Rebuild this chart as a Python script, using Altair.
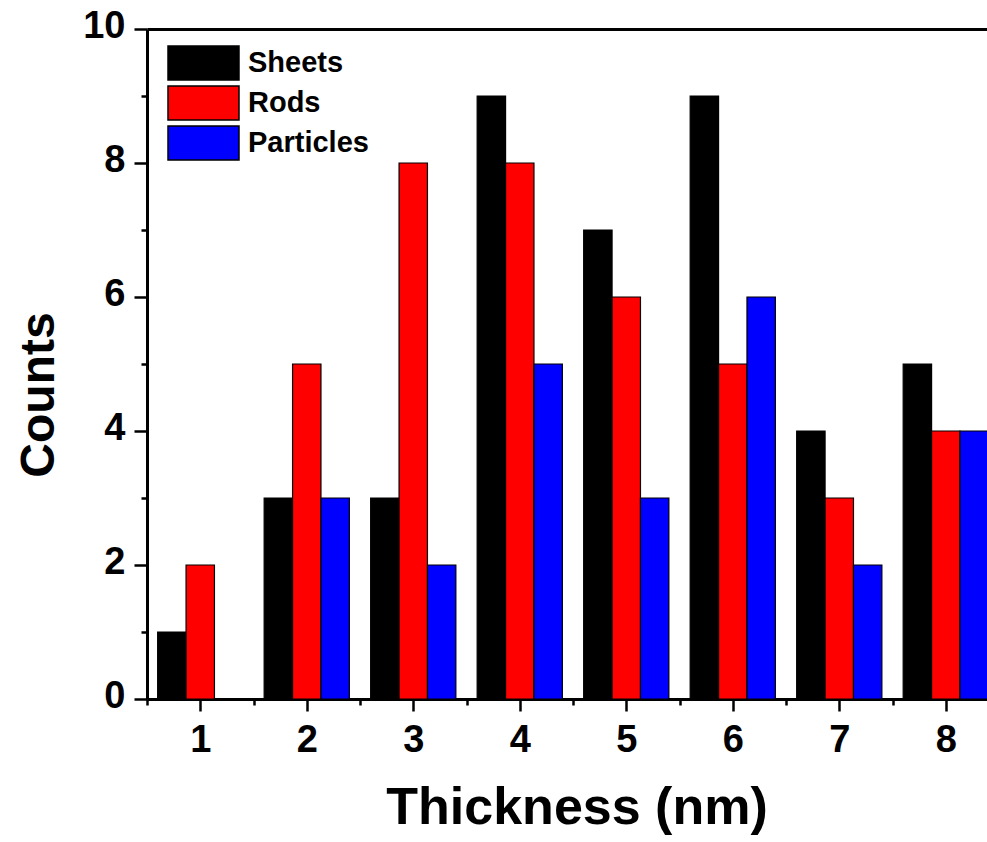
import altair as alt
import pandas as pd

thickness = [1, 2, 3, 4, 5, 6, 7, 8]
sheets = [1, 3, 3, 9, 7, 9, 4, 5]
rods = [2, 5, 8, 8, 6, 5, 3, 4]
particles = [0, 3, 2, 5, 3, 6, 2, 4]
series_names = ["Sheets", "Rods", "Particles"]
series_colors = ["#000000", "#ff0000", "#0000ff"]

rows = []
for idx, (name, vals) in enumerate(zip(series_names, [sheets, rods, particles])):
    for t, v in zip(thickness, vals):
        rows.append({"Thickness": t, "Counts": v, "Series": name, "idx": idx})
df = pd.DataFrame(rows)

FONT = "Liberation Sans"
xscale = alt.Scale(domain=[0.5, 8.387], nice=False, zero=False)
yscale = alt.Scale(domain=[0, 10], nice=False)

base = alt.Chart(df).transform_calculate(
    x1="datum.Thickness - 0.4 + datum.idx * 0.8 / 3",
    x2="datum.Thickness - 0.4 + (datum.idx + 1) * 0.8 / 3",
)

bars = base.mark_bar(clip=True, stroke="black", strokeWidth=1.2).encode(
    x=alt.X(
        "x1:Q",
        scale=xscale,
        axis=alt.Axis(
            orient="bottom",
            values=[0.5, 1, 1.5, 2, 2.5, 3, 3.5, 4, 4.5, 5, 5.5, 6, 6.5, 7, 7.5, 8],
            labelExpr="datum.value % 1 === 0 ? format(datum.value, 'd') : ''",
            tickSize={"condition": {"test": "datum.value % 1 === 0", "value": 12}, "value": 6},
            tickWidth=2.5,
            tickColor="black",
            domainColor="black",
            domainWidth=3,
            grid=False,
            labelFont=FONT,
            labelFontSize=38,
            labelFontWeight="bold",
            labelColor="black",
            labelPadding=10,
            labelFlush=False,
            labelOverlap=False,
            title="Thickness (nm)",
            titleFont=FONT,
            titleFontSize=52,
            titleFontWeight="bold",
            titleColor="black",
            titleX=429.5,
            titleY=124,
            titleAlign="center",
            titleBaseline="alphabetic",
        ),
    ),
    x2="x2:Q",
    y=alt.Y(
        "Counts:Q",
        scale=yscale,
        stack=None,
        axis=alt.Axis(
            orient="left",
            values=list(range(11)),
            labelExpr="datum.value % 2 === 0 ? format(datum.value, 'd') : ''",
            tickSize={"condition": {"test": "datum.value % 2 === 0", "value": 13}, "value": 6},
            tickWidth=2.5,
            tickColor="black",
            domainColor="black",
            domainWidth=3,
            grid=False,
            labelFont=FONT,
            labelFontSize=38,
            labelFontWeight="bold",
            labelColor="black",
            labelPadding=9,
            labelOffset=-3,
            labelFlush=False,
            labelOverlap=False,
            title="Counts",
            titleFont=FONT,
            titleFontSize=48,
            titleFontWeight="bold",
            titleColor="black",
            titleAngle=270,
            titleX=-94,
            titleY=365.5,
            titleAlign="center",
            titleBaseline="alphabetic",
        ),
    ),
    y2=alt.datum(0),
    color=alt.Color(
        "Series:N",
        scale=alt.Scale(domain=series_names, range=series_colors),
        sort=series_names,
        legend=alt.Legend(
            title=None,
            orient="none",
            legendX=37.5,
            legendY=15,
            padding=0,
            offset=0,
            symbolType="M-1.945,-0.93H1.945V0.93H-1.945Z",
            symbolSize=1332,
            symbolStrokeColor="black",
            symbolStrokeWidth=1.5,
            symbolOpacity=1,
            rowPadding=0,
            labelOffset=25.5,
            labelFont=FONT,
            labelFontSize=29,
            labelFontWeight="bold",
            labelColor="black",
        ),
    ),
)

top = base.mark_bar(opacity=0).encode(
    x=alt.X(
        "x1:Q",
        scale=xscale,
        axis=alt.Axis(
            orient="top",
            labels=False,
            ticks=False,
            grid=False,
            title=None,
            domainColor="black",
            domainWidth=3,
        ),
    ),
)

chart = (
    alt.layer(bars, top)
    .resolve_axis(x="independent")
    .properties(
        width=840,
        height=670,
        padding={"left": 147, "top": 29, "right": 0, "bottom": 143},
        autosize=alt.AutoSizeParams(type="none"),
        background="white",
    )
    .configure_view(stroke=None)
)

chart.save("out.html", embed_options={"renderer": "svg", "actions": False})
